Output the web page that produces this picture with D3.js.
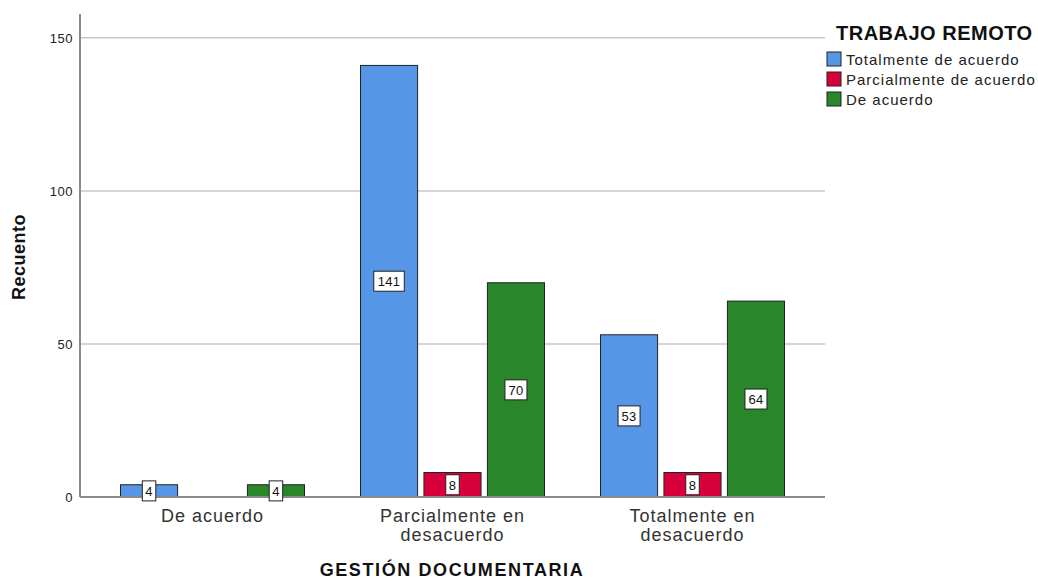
<!DOCTYPE html>
<html>
<head>
<meta charset="utf-8">
<script src="https://cdn.jsdelivr.net/npm/d3@7"></script>
<style>
  body { margin: 0; background: #fff; }
  text { font-family: Arial, "Liberation Sans", sans-serif; }
</style>
</head>
<body>
<svg width="1038" height="581"></svg>
<script>
// categories on the x axis
var categories = [["De acuerdo"], ["Parcialmente en", "desacuerdo"], ["Totalmente en", "desacuerdo"]];
var catKeys = ["De acuerdo", "Parcialmente en desacuerdo", "Totalmente en desacuerdo"];
// series (legend)
var series = ["Totalmente de acuerdo", "Parcialmente de acuerdo", "De acuerdo"];
var colors = ["#5596e6", "#d7003a", "#2a862a"];
// counts per series, one per category
var totalmenteAcuerdo = [4, 141, 53];
var parcialmenteAcuerdo = [0, 8, 8];
var deAcuerdo = [4, 70, 64];
var yTicks = [0, 50, 100, 150];

var values = [totalmenteAcuerdo, parcialmenteAcuerdo, deAcuerdo];

var svg = d3.select("svg");
var mLeft = 80, mRight = 825, mTop = 14, mBottom = 497;

var x = d3.scaleBand().domain(catKeys).range([92.5, 812.5]);
var xIn = d3.scaleBand().domain(series).range([28, 212]).paddingInner(0.1);
var y = d3.scaleLinear().domain([0, 157.8]).range([mBottom, mTop]);

// gridlines
svg.selectAll(".grid").data(yTicks.filter(function(d){ return d > 0; }))
  .enter().append("line")
  .attr("x1", mLeft).attr("x2", mRight)
  .attr("y1", function(d){ return y(d); }).attr("y2", function(d){ return y(d); })
  .style("stroke", "#c8c8c8").style("stroke-width", 1.5);

// y tick labels
svg.selectAll(".ytick").data(yTicks).enter().append("text")
  .attr("x", 73).attr("y", function(d){ return y(d) + 5; })
  .attr("text-anchor", "end")
  .style("font-size", "13px").style("letter-spacing", "0.5px").style("fill", "#222")
  .text(function(d){ return d; });

// bars
var rows = [];
catKeys.forEach(function(c, i) {
  series.forEach(function(s, j) {
    rows.push({cat: c, ser: s, j: j, v: values[j][i]});
  });
});
var shown = rows.filter(function(d){ return d.v > 0; });

svg.selectAll(".bar").data(shown).enter().append("rect")
  .attr("x", function(d){ return x(d.cat) + xIn(d.ser); })
  .attr("y", function(d){ return y(d.v); })
  .attr("width", xIn.bandwidth())
  .attr("height", function(d){ return y(0) - y(d.v); })
  .style("fill", function(d){ return colors[d.j]; })
  .style("stroke", "#222").style("stroke-width", 1);

// axes lines
svg.append("line").attr("x1", mLeft).attr("x2", mLeft).attr("y1", mTop).attr("y2", mBottom)
  .style("stroke", "#8a8a8a").style("stroke-width", 2);
svg.append("line").attr("x1", mLeft).attr("x2", mRight).attr("y1", mBottom).attr("y2", mBottom)
  .style("stroke", "#8a8a8a").style("stroke-width", 2);

// value labels
var lab = svg.selectAll(".lab").data(shown).enter().append("g")
  .attr("transform", function(d){
    var cx = x(d.cat) + xIn(d.ser) + xIn.bandwidth() / 2;
    var cy = (y(d.v) + y(0)) / 2;
    return "translate(" + cx + "," + cy + ")";
  });
lab.append("rect")
  .attr("x", function(d){ return -(String(d.v).length * 8.5 + 5) / 2; })
  .attr("y", -10)
  .attr("width", function(d){ return String(d.v).length * 8.5 + 5; })
  .attr("height", 20)
  .style("fill", "#fff").style("stroke", "#222").style("stroke-width", 1);
lab.append("text")
  .attr("text-anchor", "middle").attr("y", 5)
  .style("font-size", "13px").style("letter-spacing", "0.3px").style("fill", "#111")
  .text(function(d){ return d.v; });

// category labels
categories.forEach(function(lines, i) {
  var cx = x(catKeys[i]) + x.bandwidth() / 2;
  var t = svg.append("text")
    .attr("x", cx)
    .attr("y", 522)
    .attr("text-anchor", "middle")
    .style("font-size", "18px").style("letter-spacing", "1px").style("fill", "#333");
  lines.forEach(function(l, k) {
    t.append("tspan").attr("x", cx)
      .attr("dy", k === 0 ? 0 : 19).text(l);
  });
});

// axis titles
svg.append("text").attr("x", 452).attr("y", 576).attr("text-anchor", "middle")
  .style("font-size", "18px").style("letter-spacing", "1.6px")
  .style("font-weight", "bold").style("fill", "#111")
  .text("GESTIÓN DOCUMENTARIA");
svg.append("text").attr("transform", "translate(25,257) rotate(-90)")
  .attr("text-anchor", "middle")
  .style("font-size", "18px").style("letter-spacing", "0.5px")
  .style("font-weight", "bold").style("fill", "#111")
  .text("Recuento");

// legend
svg.append("text").attr("x", 836).attr("y", 40)
  .style("font-size", "20px").style("letter-spacing", "0.5px")
  .style("font-weight", "bold").style("fill", "#111")
  .text("TRABAJO REMOTO");
var leg = svg.selectAll(".leg").data(series).enter().append("g")
  .attr("transform", function(d, i){ return "translate(827," + (52 + i * 20) + ")"; });
leg.append("rect").attr("width", 14).attr("height", 14)
  .style("fill", function(d, i){ return colors[i]; })
  .style("stroke", "#222").style("stroke-width", 1);
leg.append("text").attr("x", 19).attr("y", 13)
  .style("font-size", "15px").style("letter-spacing", "1px").style("fill", "#222")
  .text(function(d){ return d; });
</script>
</body>
</html>
